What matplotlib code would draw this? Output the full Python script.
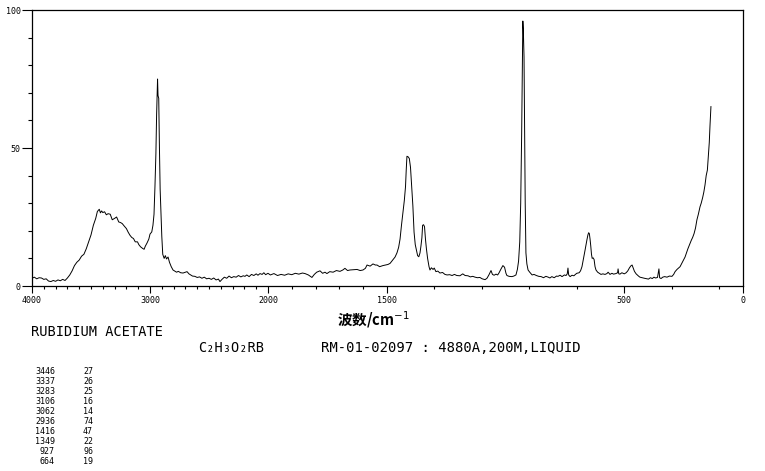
import numpy as np
import matplotlib
matplotlib.use("Agg")
import matplotlib.pyplot as plt

# spectrum (wavenumber cm-1, relative intensity)
wavenumber = [
    4000, 3980, 3960, 3940, 3920, 3900, 3880, 3860, 3840, 3820, 3800, 3780, 3760, 3740, 3720, 3700,
    3680, 3660, 3640, 3620, 3600, 3580, 3560, 3540, 3520, 3500, 3480, 3460, 3446, 3430, 3420, 3410,
    3400, 3385, 3370, 3355, 3337, 3320, 3300, 3283, 3265, 3250, 3235, 3220, 3200, 3185, 3170, 3155,
    3140, 3125, 3106, 3095, 3080, 3062, 3050, 3040, 3025, 3010, 3000, 2985, 2975, 2966, 2958, 2950,
    2944, 2940, 2936, 2932, 2926, 2920, 2914, 2907, 2900, 2892, 2880, 2870, 2860, 2847, 2835, 2820,
    2805, 2790, 2775, 2760, 2740, 2720, 2700, 2686, 2670, 2655, 2640, 2620, 2600, 2580, 2560, 2540,
    2520, 2500, 2480, 2460, 2440, 2420, 2407, 2390, 2370, 2350, 2330, 2310, 2290, 2270, 2250, 2230,
    2210, 2195, 2180, 2160, 2140, 2120, 2100, 2085, 2068, 2050, 2035, 2020, 2000,
    1990, 1975, 1960, 1945, 1930, 1915, 1900, 1885, 1870, 1855, 1844, 1830, 1815, 1805, 1795, 1781,
    1770, 1760, 1752, 1740, 1726, 1712, 1697, 1685, 1676, 1665, 1655, 1640, 1625, 1612, 1600, 1590,
    1583, 1570, 1558, 1548, 1541, 1530, 1516, 1505, 1495, 1486, 1474, 1465, 1457, 1450, 1444, 1438,
    1432, 1426, 1421, 1418, 1415, 1410, 1405, 1400, 1395, 1390, 1385, 1380, 1375, 1370, 1365, 1360,
    1356, 1352, 1349, 1345, 1341, 1337, 1333, 1328, 1322, 1318, 1312, 1305, 1300, 1293, 1285, 1276,
    1265, 1255, 1246, 1235, 1225, 1215, 1205, 1192, 1180, 1170, 1158, 1148, 1138, 1128, 1118, 1108,
    1098, 1086, 1078, 1070, 1061, 1055, 1048, 1040, 1033, 1027, 1020, 1011, 1004, 998, 994, 985,
    973, 965, 956, 950, 945, 940, 936, 932, 929, 927, 925, 922, 920, 917, 914, 910,
    905, 898, 888, 880, 870, 860, 850, 840, 830, 820, 813, 805, 795, 785, 779, 770,
    762, 752, 745, 740, 737, 734, 728, 720, 712, 707, 700, 690, 684, 678, 674, 669,
    665, 661, 657, 653, 650, 647, 644, 641, 638, 635, 631, 627, 623, 619, 612, 605,
    598, 590, 581, 573, 568, 560, 552, 545, 535, 528, 526, 523, 518, 510, 500, 492,
    485, 478, 472, 467, 462, 457, 450, 440, 434, 425, 415, 405, 398, 390, 382, 375,
    368, 360, 354, 351, 345, 338, 330, 320, 310, 299, 292, 286, 278, 270, 265, 258,
    250, 244, 238, 232, 225, 218, 212, 206, 200, 194, 188, 181, 176, 170, 165, 160,
    155, 150, 147, 142, 139, 135,
]
intensity = [
    2.8, 3.2, 2.6, 3.0, 2.9, 2.4, 2.6, 1.8, 1.6, 2.0, 1.7, 2.2, 1.9, 2.4, 2.0, 2.9,
    4.0, 5.5, 7.4, 8.6, 9.4, 10.8, 11.5, 13.5, 16.0, 18.5, 22.0, 24.5, 27.0, 27.8, 26.5, 27.2,
    26.6, 26.9, 25.8, 26.2, 26.0, 24.0, 24.5, 25.0, 23.2, 23.0, 22.6, 21.8, 20.8, 19.5, 18.4, 17.6,
    17.2, 16.0, 16.0, 15.0, 14.2, 13.6, 13.3, 14.4, 15.6, 17.0, 18.8, 19.6, 22.0, 26.0, 36.0, 48.0,
    62.0, 68.0, 75.0, 69.0, 68.0, 50.0, 35.0, 27.0, 18.0, 11.5, 10.0, 11.0, 9.8, 10.5, 8.6, 7.0,
    5.8, 5.4, 5.0, 5.3, 4.8, 4.7, 5.0, 5.2, 4.4, 4.0, 3.6, 3.5, 3.1, 3.3, 2.8, 3.2,
    2.6, 2.8, 2.4, 2.9, 2.2, 2.5, 1.6, 2.4, 3.2, 2.8, 3.6, 3.0, 3.4, 3.2, 3.8, 3.3,
    3.7, 3.5, 4.0, 3.4, 4.2, 3.8, 4.4, 3.9, 4.5, 4.2, 4.8, 4.1, 4.6,
    4.0, 4.5, 3.8, 4.2, 3.9, 4.4, 4.1, 4.6, 4.3, 4.7, 4.5, 4.0, 3.1, 4.2, 5.0, 5.5,
    4.6, 5.0, 4.5, 5.2, 5.0, 5.6, 5.3, 5.8, 6.4, 5.6, 5.8, 5.9, 6.0, 5.6, 5.8, 6.4,
    7.6, 7.2, 8.0, 7.6, 7.6, 7.0, 7.4, 7.6, 7.8, 8.2, 9.5, 10.5, 12.0, 14.0, 17.0, 22.0,
    26.5, 31.0, 36.0, 42.0, 47.0, 46.8, 46.2, 43.0, 36.0, 29.0, 19.5, 15.0, 13.0, 11.0, 10.6, 12.0,
    14.5, 17.5, 22.0, 22.2, 21.5, 17.0, 13.5, 10.0, 7.0, 5.8, 6.6, 6.0, 6.5, 5.2, 5.4, 4.7,
    4.9, 4.2, 4.0, 4.1, 3.8, 4.2, 3.8, 3.7, 4.4, 3.8, 3.7, 3.3, 3.5, 3.2, 3.0, 3.1,
    2.6, 2.3, 2.8, 4.0, 5.6, 4.2, 3.9, 4.3, 4.0, 4.8, 6.0, 7.4, 6.8, 4.6, 3.8, 3.5,
    3.4, 3.6, 4.0, 6.0, 9.0, 16.0, 30.0, 55.0, 80.0, 96.0, 93.0, 83.0, 60.0, 30.0, 12.0, 8.0,
    5.8, 5.0, 4.0, 4.2, 3.8, 3.5, 3.4, 3.0, 3.5, 3.2, 2.9, 3.4, 3.0, 3.6, 3.5, 3.9,
    3.4, 4.0, 3.8, 4.4, 6.5, 4.0, 3.4, 3.9, 3.7, 4.1, 4.6, 4.8, 5.5, 7.0, 8.8, 11.0,
    13.0, 15.0, 16.8, 18.5, 19.3, 19.0, 17.0, 14.5, 11.5, 10.0, 10.2, 9.6, 7.0, 5.8, 5.0, 4.6,
    4.2, 4.4, 4.2, 4.5, 5.0, 4.2, 4.6, 4.3, 4.5, 4.8, 6.2, 4.4, 4.3, 4.8, 4.4, 4.8,
    5.5, 6.6, 7.3, 7.6, 6.5, 5.3, 4.4, 3.6, 3.2, 3.0, 2.8, 2.6, 2.5, 3.0, 2.7, 3.2,
    2.9, 3.1, 6.2, 3.0, 2.7, 3.2, 3.4, 3.2, 3.6, 3.5, 4.2, 5.2, 6.0, 6.6, 7.0, 8.2,
    9.5, 10.5, 12.0, 13.5, 15.0, 16.5, 17.6, 19.0, 21.0, 24.0, 26.0, 28.7, 30.0, 32.0, 34.0, 36.6,
    40.0, 42.0, 45.6, 52.0, 58.0, 65.0,
]

x_major = [4000, 3000, 2000, 1500, 500, 0]
x_minor = [3900, 3800, 3700, 3600, 3500, 3400, 3300, 3200, 3100,
           2900, 2800, 2700, 2600, 2500, 2400, 2300, 2200, 2100,
           1900, 1800, 1700, 1600, 1300, 1100, 900, 700, 300, 100]
y_major = [0, 50, 100]

title = "RUBIDIUM ACETATE"
formula = "C\u2082H\u2083O\u2082RB"
sample_info = "RM-01-02097 : 4880A,200M,LIQUID"
peak_wn = [3446, 3337, 3283, 3106, 3062, 2936, 1416, 1349, 927, 664]
peak_int = [27, 26, 25, 16, 14, 74, 47, 22, 96, 19]


# SDBS raman axis: 4000-2000 squeezed to half the scale of 2000-0
def fwd(x):
    x = np.asarray(x, dtype=float)
    return np.where(x <= 2000, x * 475 / 2000, 475 + (x - 2000) * 236 / 2000)


def inv(u):
    u = np.asarray(u, dtype=float)
    return np.where(u <= 475, u * 2000 / 475, 2000 + (u - 475) * 2000 / 236)


fig = plt.figure(figsize=(7.65, 4.71), dpi=100)
ax = fig.add_axes([32 / 765, 1 - 286 / 471, 711 / 765, 276 / 471])

ax.plot(wavenumber, intensity, color="black", lw=0.7)

ax.set_xscale("function", functions=(fwd, inv))
ax.set_xlim(4000, 0)
ax.set_ylim(0, 100)

ax.set_xticks(x_major)
ax.set_xticklabels([str(v) for v in x_major])
ax.set_xticks(x_minor, minor=True)
ax.set_yticks(y_major)
ax.set_yticks(np.arange(0, 101, 10), minor=True)
ax.tick_params(axis="x", which="major", direction="out", length=5, width=0.8,
               labelsize=6, pad=2)
ax.tick_params(axis="x", which="minor", direction="out", length=2.5, width=0.8)
ax.tick_params(axis="y", which="major", direction="out", length=7, width=0.8,
               labelsize=6, pad=1)
ax.tick_params(axis="y", which="minor", direction="out", length=3, width=0.8)
for lab in ax.get_xticklabels() + ax.get_yticklabels():
    lab.set_family("DejaVu Sans Mono")
for s in ax.spines.values():
    s.set_linewidth(0.9)

fig.text(373 / 765, 1 - 320 / 471, "波数/cm$^{-1}$", ha="center", va="center",
         fontsize=10.5, fontweight="bold", family=["Noto Sans CJK SC", "DejaVu Sans"])

mono = "DejaVu Sans Mono"
fig.text(31 / 765, 1 - 332 / 471, title, ha="left", va="center", fontsize=9.8, family=mono)
fig.text(198 / 765, 1 - 348 / 471, formula, ha="left", va="center", fontsize=9.8, family=mono)
fig.text(321 / 765, 1 - 348 / 471, sample_info, ha="left", va="center", fontsize=10, family=mono)

for i, (w, p) in enumerate(zip(peak_wn, peak_int)):
    yy = 1 - (372 + i * 10) / 471
    fig.text(55 / 765, yy, str(w), ha="right", va="center", fontsize=6, family=mono)
    fig.text(93 / 765, yy, str(p), ha="right", va="center", fontsize=6, family=mono)

fig.savefig("out.png", dpi=100)
